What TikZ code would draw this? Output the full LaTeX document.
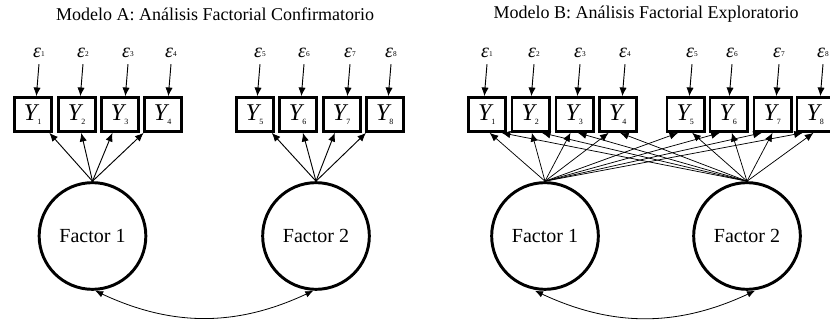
\documentclass[tikz,border=0pt]{standalone}
\usepackage{fontspec}
\setmainfont{Liberation Serif}
\usetikzlibrary{arrows.meta}
\tikzstyle{obs}=[draw,rectangle,line width=2pt,minimum width=28pt,
                minimum height=25.5pt,inner sep=0pt,
                font=\fontsize{18}{18}\selectfont\itshape]
\tikzstyle{lat}=[draw,circle,line width=2.2pt,minimum size=80pt,
                inner sep=0pt,font=\fontsize{15}{15}\selectfont]
\tikzstyle{err}=[inner sep=4.5pt,font=\fontsize{15}{15}\selectfont\itshape]
\tikzstyle{ttl}=[font=\fontsize{13.5}{13.5}\selectfont]
\tikzstyle{load}=[-{Latex[length=6.5pt,width=5.5pt]},line width=0.7pt]
\tikzstyle{cov}=[{Latex[length=6pt,width=5pt]}-{Latex[length=6pt,width=5pt]},line width=0.6pt]
\newcommand{\ysub}[1]{Y\textsubscript{\upshape\fontsize{6}{6}\selectfont #1}}
\newcommand{\esub}[1]{ε{\upshape\fontsize{5.5}{5.5}\selectfont\raisebox{1pt}{#1}}}

\begin{document}
\begin{tikzpicture}[x=0.75pt,y=0.75pt]
    \useasboundingbox (0,0) rectangle (830,-327);
    % Modelo A
    \node[ttl] (tA) at (215,-14) {Modelo A: Análisis Factorial Confirmatorio};
    \node[obs] (AY1) at (33,-114.5) {\ysub{1}};
    \node[obs] (AY2) at (77,-114.5) {\ysub{2}};
    \node[obs] (AY3) at (120,-114.5) {\ysub{3}};
    \node[obs] (AY4) at (163,-114.5) {\ysub{4}};
    \node[obs] (AY5) at (255,-114.5) {\ysub{5}};
    \node[obs] (AY6) at (298,-114.5) {\ysub{6}};
    \node[obs] (AY7) at (342,-114.5) {\ysub{7}};
    \node[obs] (AY8) at (385,-114.5) {\ysub{8}};
    \node[err] (AE1) at (39,-53) {\esub{1}};
    \node[err] (AE2) at (83,-53) {\esub{2}};
    \node[err] (AE3) at (128,-53) {\esub{3}};
    \node[err] (AE4) at (171,-53) {\esub{4}};
    \node[err] (AE5) at (260,-53) {\esub{5}};
    \node[err] (AE6) at (304,-53) {\esub{6}};
    \node[err] (AE7) at (350,-53) {\esub{7}};
    \node[err] (AE8) at (391,-53) {\esub{8}};
    \node[lat] (AF1) at (92.5,-236) {Factor 1};
    \node[lat] (AF2) at (316,-236) {Factor 2};
    \path[load]
      (AE1.south) edge ([xshift=-2pt]AE1.south |- AY1.north)
      (AE2.south) edge ([xshift=-2pt]AE2.south |- AY2.north)
      (AE3.south) edge ([xshift=-2pt]AE3.south |- AY3.north)
      (AE4.south) edge ([xshift=-2pt]AE4.south |- AY4.north)
      (AE5.south) edge ([xshift=-2pt]AE5.south |- AY5.north)
      (AE6.south) edge ([xshift=-2pt]AE6.south |- AY6.north)
      (AE7.south) edge ([xshift=-2pt]AE7.south |- AY7.north)
      (AE8.south) edge ([xshift=-2pt]AE8.south |- AY8.north)
      (AF1.north) edge (AY1) edge (AY2) edge (AY3) edge (AY4)
      (AF2.north) edge (AY5) edge (AY6) edge (AY7) edge (AY8);
    \draw[cov] ([xshift=2pt]AF1.south) to[bend right=25] ([xshift=-2pt]AF2.south);
    % Modelo B
    \node[ttl] (tB) at (646,-14) {Modelo B: Análisis Factorial Exploratorio};
    \node[obs] (BY1) at (487,-114.5) {\ysub{1}};
    \node[obs] (BY2) at (530.5,-114.5) {\ysub{2}};
    \node[obs] (BY3) at (574.5,-114.5) {\ysub{3}};
    \node[obs] (BY4) at (618,-114.5) {\ysub{4}};
    \node[obs] (BY5) at (685.5,-114.5) {\ysub{5}};
    \node[obs] (BY6) at (728.5,-114.5) {\ysub{6}};
    \node[obs] (BY7) at (772.5,-114.5) {\ysub{7}};
    \node[obs] (BY8) at (815.5,-114.5) {\ysub{8}};
    \node[err] (BE1) at (487,-53) {\esub{1}};
    \node[err] (BE2) at (534,-53) {\esub{2}};
    \node[err] (BE3) at (580,-53) {\esub{3}};
    \node[err] (BE4) at (625,-53) {\esub{4}};
    \node[err] (BE5) at (692,-53) {\esub{5}};
    \node[err] (BE6) at (732,-53) {\esub{6}};
    \node[err] (BE7) at (779,-53) {\esub{7}};
    \node[err] (BE8) at (823,-53) {\esub{8}};
    \node[lat] (BF1) at (545,-236) {Factor 1};
    \node[lat] (BF2) at (747,-236) {Factor 2};
    \path[load]
      (BE1.south) edge ([xshift=-2pt]BE1.south |- BY1.north)
      (BE2.south) edge ([xshift=-2pt]BE2.south |- BY2.north)
      (BE3.south) edge ([xshift=-2pt]BE3.south |- BY3.north)
      (BE4.south) edge ([xshift=-2pt]BE4.south |- BY4.north)
      (BE5.south) edge ([xshift=-2pt]BE5.south |- BY5.north)
      (BE6.south) edge ([xshift=-2pt]BE6.south |- BY6.north)
      (BE7.south) edge ([xshift=-2pt]BE7.south |- BY7.north)
      (BE8.south) edge ([xshift=-2pt]BE8.south |- BY8.north);
    \path[load,line width=0.55pt]
      (BF1.north) edge ([xshift=2pt]BY1.south)
                  edge ([xshift=1pt]BY2.south)
                  edge ([xshift=-3pt]BY3.south)
                  edge ([xshift=-7pt]BY4.south)
                  edge ([xshift=-5.5pt]BY5.south)
                  edge ([xshift=-6.5pt]BY6.south)
                  edge ([xshift=-8pt]BY7.south)
                  edge ([xshift=-9.5pt]BY8.south)
      (BF2.north) edge ([xshift=11pt]BY1.south)
                  edge ([xshift=8.5pt]BY2.south)
                  edge ([xshift=2.5pt]BY3.south)
                  edge ([xshift=1.5pt]BY4.south)
                  edge ([xshift=5pt]BY5.south)
                  edge ([xshift=2.5pt]BY6.south)
                  edge ([xshift=0pt]BY7.south)
                  edge ([xshift=-1.5pt]BY8.south);
    \draw[cov] ([xshift=-7.5pt]BF1.south) to[bend right=25] ([xshift=6pt]BF2.south);
\end{tikzpicture}
\end{document}
